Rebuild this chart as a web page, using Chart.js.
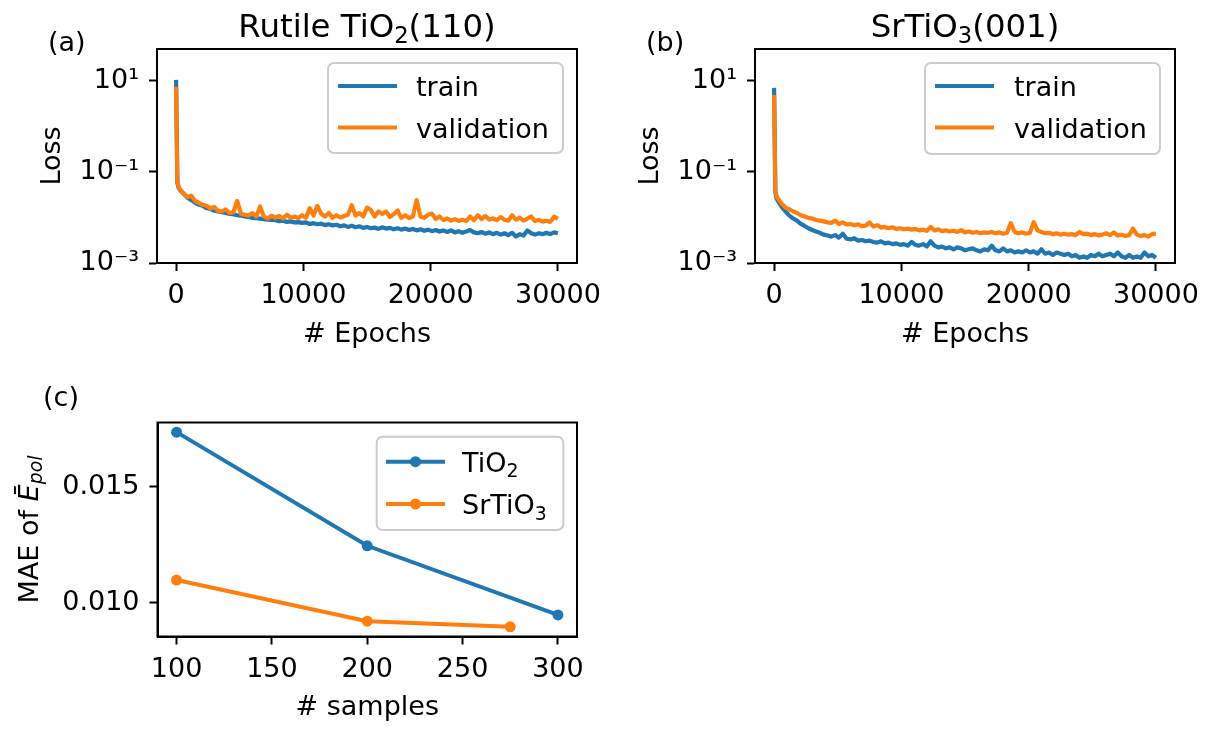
<!DOCTYPE html>
<html><head><meta charset="utf-8">
<script src="https://cdn.jsdelivr.net/npm/chart.js@4.4.0/dist/chart.umd.min.js"></script>
<style>
html,body{margin:0;padding:0;background:#fff;}
#wrap{position:relative;width:1215px;height:729px;overflow:hidden;background:#fff;}
canvas{position:absolute;left:0;top:0;width:1215px;height:729px;}
</style></head><body>
<div id="wrap">
<canvas id="ca" width="1215" height="729"></canvas>
<canvas id="cb" width="1215" height="729"></canvas>
<canvas id="cc" width="1215" height="729"></canvas>
</div>
<script>
// ---------------- data ----------------
const epochs = [0,100,200,300,600,900,1200,1500,1800,2100,
  2400,2700,3000,3300,3600,3900,4200,4500,4800,5100,
  5400,5700,6000,6300,6600,6900,7200,7500,7800,8100,
  8400,8700,9000,9300,9600,9900,10200,10500,10800,11100,
  11400,11700,12000,12300,12600,12900,13200,13500,13800,14100,
  14400,14700,15000,15300,15600,15900,16200,16500,16800,17100,
  17400,17700,18000,18300,18600,18900,19200,19500,19800,20100,
  20400,20700,21000,21300,21600,21900,22200,22500,22800,23100,
  23400,23700,24000,24300,24600,24900,25200,25500,25800,26100,
  26400,26700,27000,27300,27600,27900,28200,28500,28800,29100,
  29400,29700,30000];

const tio2Train = [10.5,0.058,0.045,0.040,0.033,0.027,0.024,0.021,0.019,0.018,
  0.016,0.0155,0.014,0.0135,0.013,0.0125,0.012,0.0118,0.0112,0.011,
  0.0105,0.0102,0.0098,0.0096,0.0094,0.0092,0.0090,0.0088,0.0087,0.0083,
  0.0085,0.0080,0.0082,0.0078,0.0079,0.0076,0.0078,0.0072,0.0075,0.0071,
  0.0073,0.0068,0.0071,0.0067,0.0069,0.0064,0.0067,0.0062,0.0066,0.0061,
  0.0064,0.0059,0.0062,0.0058,0.0060,0.0056,0.0061,0.0057,0.0059,0.0055,
  0.0058,0.0054,0.0057,0.0053,0.0056,0.0052,0.0055,0.0051,0.0054,0.0050,
  0.0053,0.0049,0.0052,0.0048,0.0052,0.0047,0.0050,0.0046,0.0049,0.0053,
  0.0047,0.0045,0.0048,0.0044,0.0047,0.0043,0.0046,0.0042,0.0045,0.0041,
  0.0046,0.0038,0.0043,0.0040,0.0052,0.0045,0.0042,0.0045,0.0043,0.0046,
  0.0043,0.0047,0.0045];

const tio2Val = [7.4,0.062,0.047,0.042,0.033,0.028,0.030,0.023,0.021,0.019,
  0.018,0.016,0.017,0.014,0.0135,0.015,0.0125,0.013,0.023,0.012,
  0.0115,0.011,0.0125,0.0105,0.0175,0.0105,0.0095,0.011,0.0098,0.0108,
  0.0095,0.0115,0.0098,0.0105,0.0097,0.0112,0.0098,0.016,0.011,0.018,
  0.012,0.0105,0.0125,0.0098,0.0112,0.010,0.0108,0.0115,0.0185,0.011,
  0.0125,0.0105,0.0165,0.0145,0.0105,0.0135,0.012,0.0135,0.0102,0.0118,
  0.0142,0.0098,0.0112,0.0097,0.0105,0.024,0.0105,0.0098,0.0115,0.0122,
  0.0092,0.0105,0.0088,0.0095,0.0085,0.0092,0.0084,0.0089,0.0083,0.0105,
  0.0087,0.0112,0.0092,0.0108,0.0090,0.0095,0.0087,0.0102,0.0089,0.0085,
  0.0112,0.0089,0.0099,0.0085,0.0094,0.0105,0.0083,0.0089,0.0081,0.0085,
  0.0080,0.0104,0.0093];

const srtioTrain = [7.0,0.035,0.026,0.023,0.017,0.0135,0.011,0.0095,0.0085,0.0072,
  0.0065,0.0058,0.0053,0.0049,0.0046,0.0042,0.0040,0.0038,0.0041,0.0036,
  0.0044,0.0034,0.0033,0.0035,0.0031,0.0032,0.0030,0.0031,0.0029,0.0028,
  0.0030,0.0027,0.0028,0.0026,0.0027,0.0025,0.0026,0.0024,0.0029,0.0025,
  0.0024,0.0026,0.0023,0.0030,0.0024,0.0022,0.0023,0.0021,0.0022,0.0020,
  0.0022,0.0021,0.0019,0.0020,0.0021,0.0019,0.0018,0.0020,0.0019,0.0024,
  0.0019,0.0018,0.0021,0.0018,0.0019,0.0017,0.0018,0.0017,0.0019,0.0017,
  0.0018,0.0016,0.0020,0.0016,0.0017,0.0015,0.0017,0.0016,0.0015,0.0016,
  0.0014,0.0015,0.0013,0.0014,0.0013,0.0015,0.0014,0.0016,0.0014,0.0015,
  0.0016,0.0014,0.0017,0.0014,0.0013,0.0015,0.0013,0.0014,0.0013,0.0017,
  0.0014,0.0015,0.0013];

const srtioVal = [4.9,0.040,0.029,0.026,0.020,0.0165,0.015,0.0135,0.0125,0.0112,
  0.0105,0.0098,0.0095,0.0088,0.0085,0.0082,0.0078,0.0076,0.0085,0.0072,
  0.0078,0.0070,0.0072,0.0067,0.0071,0.0064,0.0066,0.0078,0.0063,0.0068,
  0.0060,0.0062,0.0058,0.0061,0.0056,0.0058,0.0055,0.0057,0.0054,0.0056,
  0.0052,0.0054,0.0051,0.0062,0.0052,0.0055,0.0050,0.0052,0.0049,0.0051,
  0.0048,0.0053,0.0047,0.0049,0.0046,0.0048,0.0045,0.0047,0.0046,0.0048,
  0.0045,0.0047,0.0044,0.0046,0.0075,0.0048,0.0045,0.0047,0.0044,0.0046,
  0.0079,0.0052,0.0048,0.0045,0.0046,0.0043,0.0045,0.0042,0.0044,0.0042,
  0.0043,0.0041,0.0048,0.0043,0.0044,0.0041,0.0043,0.0040,0.0042,0.0045,
  0.0041,0.0047,0.0040,0.0042,0.0039,0.0041,0.0057,0.0042,0.0039,0.0041,
  0.0038,0.0043,0.0044];

const samplesTiO2 = [100, 200, 300];
const maeTiO2 = [0.01737, 0.01246, 0.00947];
const samplesSrTiO3 = [100, 200, 275];
const maeSrTiO3 = [0.01098, 0.00920, 0.00896];

const epochTicks = [0, 10000, 20000, 30000];
const lossTicks = [0.001, 0.1, 10];
const sampleTicks = [100, 150, 200, 250, 300];
const maeTicks = [0.010, 0.015];

// ---------------- helpers ----------------
const FAM = '"DejaVu Sans", sans-serif';
const FS = 27;
const TFS = 32.4;
const BLUE = '#1f77b4', ORANGE = '#ff7f0e';
Chart.defaults.font.family = FAM;
Chart.defaults.font.size = FS;
Chart.defaults.color = '#000';

function pts(xs, ys) { return xs.map((x, i) => ({ x: x, y: ys[i] })); }
function fixedTicks(vals) { return function (scale) { scale.ticks = vals.map(v => ({ value: v })); }; }
const SUP = { '-': '\u207B', '1': '\u00B9', '3': '\u00B3', '0': '\u2070', '2': '\u00B2' };
function lossLabel(v) {
  const e = Math.round(Math.log10(v));
  return '10' + String(e).split('').map(c => SUP[c]).join('');
}

function drawRich(ctx, parts, x, y, align, size) {
  const fs = size || FS;
  const fontFor = p => (p.it ? 'italic ' : '') + (p.sub ? fs * 0.7 : fs) + 'px ' + FAM;
  let w = 0;
  parts.forEach(p => { ctx.font = fontFor(p); p.w = ctx.measureText(p.t).width; w += p.w; });
  let cx = align === 'center' ? x - w / 2 : x;
  ctx.textAlign = 'left'; ctx.textBaseline = 'alphabetic'; ctx.fillStyle = '#000';
  parts.forEach(p => { ctx.font = fontFor(p); ctx.fillText(p.t, cx, y + (p.sub ? (p.shift || fs * 0.2) : 0)); cx += p.w; });
}

function drawLegend(ctx, L) {
  ctx.save();
  ctx.beginPath();
  if (ctx.roundRect) ctx.roundRect(L.x0, L.y0, L.x1 - L.x0, L.y1 - L.y0, 6);
  else ctx.rect(L.x0, L.y0, L.x1 - L.x0, L.y1 - L.y0);
  ctx.fillStyle = 'rgba(255,255,255,0.8)'; ctx.fill();
  ctx.strokeStyle = '#cccccc'; ctx.lineWidth = 2; ctx.stroke();
  L.rows.forEach(r => {
    ctx.beginPath();
    ctx.strokeStyle = r.color; ctx.lineWidth = 4; ctx.lineCap = 'butt';
    ctx.moveTo(L.lx0, r.y); ctx.lineTo(L.lx1, r.y); ctx.stroke();
    if (r.marker) {
      ctx.beginPath(); ctx.fillStyle = r.color;
      ctx.arc((L.lx0 + L.lx1) / 2, r.y, 5.5, 0, Math.PI * 2); ctx.fill();
    }
    drawRich(ctx, r.parts, L.tx, r.y + 10.3, 'left');
  });
  ctx.restore();
}

function decoPlugin(d) {
  return {
    id: 'deco',
    afterDraw(chart) {
      const ctx = chart.ctx, a = chart.chartArea;
      ctx.save();
      ctx.strokeStyle = '#000'; ctx.lineWidth = 2;
      ctx.strokeRect(a.left, a.top, a.right - a.left, a.bottom - a.top);
      if (d.title) drawRich(ctx, d.title, (a.left + a.right) / 2, d.titleY, 'center', TFS);
      ctx.font = FS + 'px ' + FAM; ctx.fillStyle = '#000';
      ctx.textAlign = 'left'; ctx.textBaseline = 'alphabetic';
      ctx.fillText(d.panel, d.panelX, d.panelY);
      if (d.ylabel) {
        ctx.save();
        ctx.translate(d.ylabel.x, (a.top + a.bottom) / 2);
        ctx.rotate(-Math.PI / 2);
        drawRich(ctx, d.ylabel.parts, 0, 0, 'center');
        ctx.restore();
      }
      drawLegend(ctx, d.legend);
      ctx.restore();
    }
  };
}

function axisCommon() {
  return {
    grid: { display: true, drawOnChartArea: false, drawTicks: true, tickLength: 8, tickWidth: 2, tickColor: '#000' },
    border: { display: true, color: '#000', width: 2 }
  };
}

function lossChart(id, padLeft, padRight, train, val, deco) {
  return new Chart(document.getElementById(id), {
    type: 'scatter',
    data: {
      datasets: [
        { label: 'train', data: pts(epochs, train), showLine: true, borderColor: BLUE, backgroundColor: BLUE,
          borderWidth: 4.2, pointRadius: 0, borderJoinStyle: 'round', order: 2 },
        { label: 'validation', data: pts(epochs, val), showLine: true, borderColor: ORANGE, backgroundColor: ORANGE,
          borderWidth: 4.2, pointRadius: 0, borderJoinStyle: 'round', order: 1 }
      ]
    },
    options: {
      responsive: false, animation: false, devicePixelRatio: 1, events: [],
      layout: { padding: { left: padLeft, right: padRight, top: 49, bottom: 378 } },
      plugins: { legend: { display: false }, tooltip: { enabled: false }, title: { display: false } },
      scales: {
        x: Object.assign(axisCommon(), {
          type: 'linear', position: 'bottom', min: -1500, max: 31500, bounds: 'data',
          afterBuildTicks: fixedTicks(epochTicks),
          ticks: { callback: v => String(v), maxRotation: 0, autoSkip: false, padding: 9, color: '#000' },
          title: { display: true, text: '# Epochs', color: '#000', font: { size: FS, lineHeight: 1.2 }, padding: { top: 0, bottom: 0 } },
          afterFit: s => { s.height = 88; s.paddingLeft = 0; s.paddingRight = 0; }
        }),
        y: Object.assign(axisCommon(), {
          type: 'logarithmic', position: 'left', min: 0.001, max: 50, bounds: 'data',
          afterBuildTicks: fixedTicks(lossTicks),
          ticks: { callback: v => lossLabel(v), autoSkip: false, padding: 10, color: '#000' },
          title: { display: true, text: 'Loss', color: '#000', font: { size: FS, lineHeight: 1.2 }, padding: { top: 36.6, bottom: 0 } },
          afterFit: s => { s.width = 157; s.paddingTop = 0; s.paddingBottom = 0; }
        })
      }
    },
    plugins: [decoPlugin(deco)]
  });
}

lossChart('ca', 0, 638, tio2Train, tio2Val, {
  title: [{ t: 'Rutile TiO' }, { t: '2', sub: true }, { t: '(110)' }], titleY: 37,
  panel: '(a)', panelX: 48, panelY: 51,
  legend: { x0: 328, y0: 63, x1: 563, y1: 153, lx0: 338, lx1: 397, tx: 416,
    rows: [{ y: 86, color: BLUE, parts: [{ t: 'train' }] }, { y: 127.5, color: ORANGE, parts: [{ t: 'validation' }] }] }
});

lossChart('cb', 598, 40, srtioTrain, srtioVal, {
  title: [{ t: 'SrTiO' }, { t: '3', sub: true }, { t: '(001)' }], titleY: 37,
  panel: '(b)', panelX: 646, panelY: 51,
  legend: { x0: 925, y0: 63, x1: 1160, y1: 154, lx0: 935, lx1: 994, tx: 1014,
    rows: [{ y: 86, color: BLUE, parts: [{ t: 'train' }] }, { y: 127.5, color: ORANGE, parts: [{ t: 'validation' }] }] }
});

new Chart(document.getElementById('cc'), {
  type: 'scatter',
  data: {
    datasets: [
      { label: 'TiO2', data: pts(samplesTiO2, maeTiO2), showLine: true, borderColor: BLUE, backgroundColor: BLUE,
        pointBackgroundColor: BLUE, pointBorderWidth: 0, borderWidth: 4, pointRadius: 5.5, order: 2 },
      { label: 'SrTiO3', data: pts(samplesSrTiO3, maeSrTiO3), showLine: true, borderColor: ORANGE, backgroundColor: ORANGE,
        pointBackgroundColor: ORANGE, pointBorderWidth: 0, borderWidth: 4, pointRadius: 5.5, order: 1 }
    ]
  },
  options: {
    responsive: false, animation: false, devicePixelRatio: 1, events: [],
    layout: { padding: { left: 0, right: 638, top: 422.5, bottom: 4.5 } },
    plugins: { legend: { display: false }, tooltip: { enabled: false }, title: { display: false } },
    scales: {
      x: Object.assign(axisCommon(), {
        type: 'linear', position: 'bottom', min: 90, max: 310, bounds: 'data',
        afterBuildTicks: fixedTicks(sampleTicks),
        ticks: { callback: v => String(v), maxRotation: 0, autoSkip: false, padding: 9, color: '#000' },
        title: { display: true, text: '# samples', color: '#000', font: { size: FS, lineHeight: 1.2 }, padding: { top: 0, bottom: 0 } },
        afterFit: s => { s.height = 88; s.paddingLeft = 0; s.paddingRight = 0; }
      }),
      y: Object.assign(axisCommon(), {
        type: 'linear', position: 'left', min: 0.00854, max: 0.017787, bounds: 'data',
        afterBuildTicks: fixedTicks(maeTicks),
        ticks: { callback: v => v.toFixed(3), autoSkip: false, padding: 10, color: '#000' },
        title: { display: false },
        afterFit: s => { s.width = 157.5; s.paddingTop = 0; s.paddingBottom = 0; }
      })
    }
  },
  plugins: [decoPlugin({
    panel: '(c)', panelX: 43, panelY: 405.5,
    ylabel: { x: 37.5, parts: [{ t: 'MAE of ' }, { t: '\u0112', it: true }, { t: 'pol', it: true, sub: true, shift: 4 }] },
    legend: { x0: 376.7, y0: 436.7, x1: 563.3, y1: 530, lx0: 386, lx1: 445, tx: 462,
      rows: [
        { y: 461.7, color: BLUE, marker: true, parts: [{ t: 'TiO' }, { t: '2', sub: true }] },
        { y: 504, color: ORANGE, marker: true, parts: [{ t: 'SrTiO' }, { t: '3', sub: true }] }
      ] }
  })]
});
</script>
</body></html>
